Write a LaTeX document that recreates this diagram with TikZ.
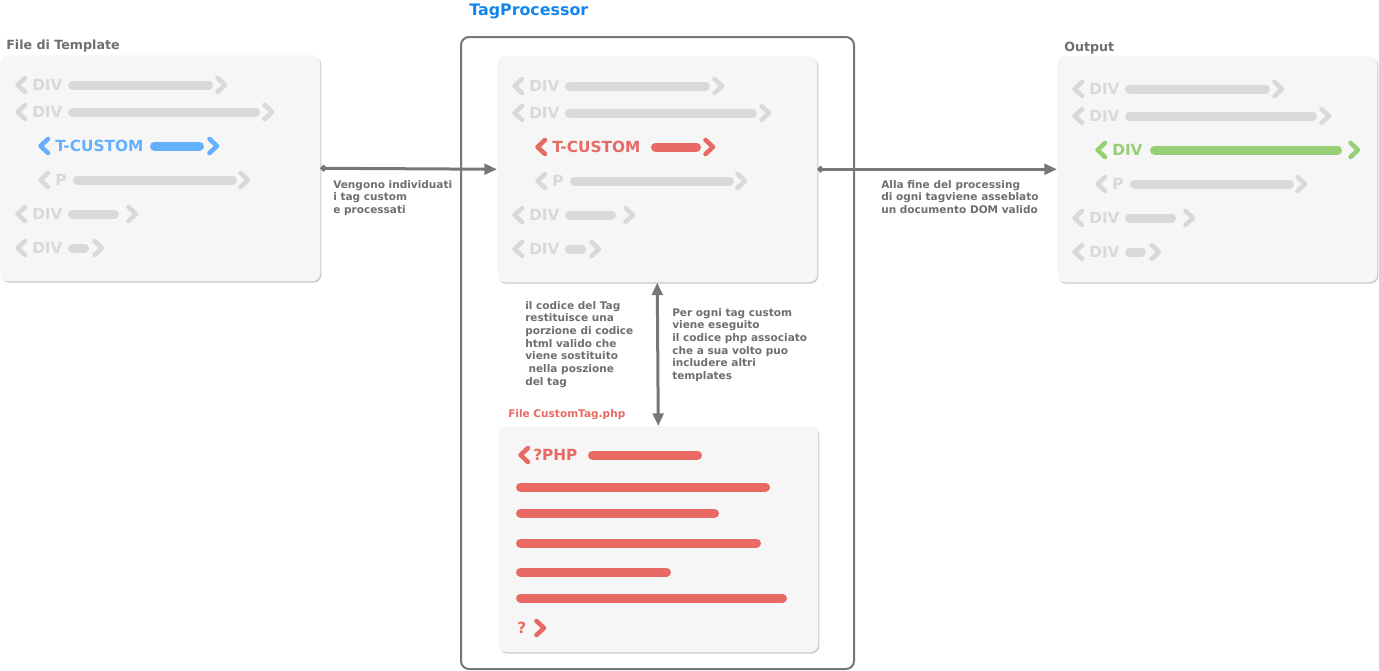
\documentclass[tikz,border=0pt]{standalone}
\usepackage{fontspec}
\setmainfont{DejaVu Sans}
\usetikzlibrary{arrows.meta}

\definecolor{boxfill}{HTML}{F6F6F6}
\definecolor{boxshade}{HTML}{C9C9C9}
\definecolor{tagoff}{HTML}{D9D9D9}
\definecolor{tagblue}{HTML}{64B0FF}
\definecolor{tagred}{HTML}{E96A64}
\definecolor{taggreen}{HTML}{96CF74}
\definecolor{labelgray}{HTML}{6E6E6E}
\definecolor{linegray}{HTML}{777777}
\definecolor{titleblue}{HTML}{1584EE}

% one line of markup: colour, x, y, label, bar from, bar to, closing x
\newcommand{\tagrow}[7]{%
  \draw[chev, #1] (#2+10,#3-7) -- (#2+2.5,#3) -- (#2+10,#3+7);
  \node[tagtext, text=#1] (r#3) at (#2+17,#3) {#4};
  \draw[codebar, #1] (#5+4.5,#3) -- (#6-4.5,#3);
  \draw[chev, #1] (#7+2.5,#3-7) -- (#7+10,#3) -- (#7+2.5,#3+7);
}
% grey lines around the highlighted one
\newcommand{\greyrows}{%
  \tagrow{tagoff}{15}{30}{DIV}{68}{213}{215}
  \tagrow{tagoff}{15}{57}{DIV}{68}{260}{262}
  \tagrow{tagoff}{38}{125}{P}{73}{237}{238}
  \tagrow{tagoff}{15}{159}{DIV}{68}{119}{126}
  \tagrow{tagoff}{15}{193}{DIV}{68}{89}{92}
}

\begin{document}
\begin{tikzpicture}[x=0.75pt, y=-0.75pt,
    codebox/.style={anchor=north west, fill=boxfill, rounded corners=6pt,
      minimum width=240pt, minimum height=169.5pt, inner sep=0,
      preaction={fill=boxshade, transform canvas={xshift=0.8pt, yshift=-1pt}}},
    chev/.style={line width=3.4pt, line cap=round, line join=round},
    codebar/.style={line width=6.75pt, line cap=round},
    tagtext/.style={anchor=west, inner sep=0, font=\fontsize{11.5}{13}\selectfont\bfseries},
    boxtitle/.style={anchor=north west, inner sep=0, text=labelgray, font=\fontsize{9.5}{11}\selectfont\bfseries},
    note/.style={anchor=north west, inner sep=0, align=left, text=labelgray, font=\fontsize{7.9}{9.5}\selectfont\bfseries},
    flow/.style={linegray, line width=2.25pt, {Circle[length=4.5pt]}-{Triangle[length=9.5pt,width=8pt]}},
    callflow/.style={linegray, line width=2.25pt, {Triangle[length=9.5pt,width=8pt]}-{Triangle[length=9.5pt,width=8pt]}}]
  \useasboundingbox (0,0) rectangle (1379,671);

  % tag processor frame
  \node[anchor=north west, draw=linegray, line width=1.5pt, rounded corners=6pt,
    minimum width=294.75pt, minimum height=474pt, inner sep=0] (tagproc) at (460,36) {};
  \node[anchor=north west, inner sep=0, text=titleblue, font=\fontsize{11.9}{13}\selectfont\bfseries]
    (tagproc-title) at (469,4) {TagProcessor};

  % template file
  \node[boxtitle] (tpl-title) at (6,40) {File di Template};
  \node[codebox] (tpl) at (0,55) {};
  \begin{scope}[shift={(tpl.north west)}, name prefix=tpl-]
    \greyrows
    \tagrow{tagblue}{38}{91}{T-CUSTOM}{150}{204}{207}
  \end{scope}

  % processed copy
  \node[codebox] (proc) at (497,56) {};
  \begin{scope}[shift={(proc.north west)}, name prefix=proc-]
    \greyrows
    \tagrow{tagred}{38}{91}{T-CUSTOM}{154}{204}{206}
  \end{scope}

  % output
  \node[boxtitle] (out-title) at (1064,42) {Output};
  \node[codebox] (out) at (1057,56) {};
  \begin{scope}[shift={(out.north west)}, yshift=-2.25pt, name prefix=out-]
    \greyrows
    \tagrow{taggreen}{38}{91}{DIV}{93}{285}{291}
  \end{scope}

  % php file
  \node[anchor=north west, inner sep=0, text=tagred, font=\fontsize{7.9}{9.5}\selectfont\bfseries]
    (php-title) at (508,409) {File CustomTag.php};
  \node[codebox] (php) at (498,426) {};
  \begin{scope}[shift={(php.north west)}, name prefix=php-]
    \draw[chev, tagred] (30,22) -- (22.5,29) -- (30,36);
    \node[tagtext, text=tagred] (open) at (35,29) {?PHP};
    \draw[codebar, tagred] (94.5,29) -- (199.5,29);
    \foreach \y/\e in {61/272, 87/221, 117/263, 146/173, 172/289}
      \draw[codebar, tagred] (22.5,\y) -- (\e-4.5,\y);
    \node[tagtext, text=tagred] (close) at (19,202) {?};
    \draw[chev, tagred] (38.5,195) -- (46,202) -- (38.5,209);
  \end{scope}

  % connectors
  \draw[flow] (tpl.east) -- (proc.west);
  \draw[flow] (proc.east) -- (out.west);
  \draw[callflow] (proc.south) -- (php.north);

  \node[note] (find) at (333,180) {Vengono individuati\\i tag custom\\e processati};
  \node[note] (dom) at (881,180) {Alla fine del processing\\di ogni tagviene asseblato\\un documento DOM valido};
  \node[note] (back) at (525,301) {il codice del Tag\\restituisce una\\porzione di codice\\html valido che\\viene sostituito\\\hspace*{2.5pt}nella poszione\\del tag};
  \node[note] (run) at (672,308) {Per ogni tag custom\\viene eseguito\\il codice php associato\\che a sua volto puo\\includere altri\\templates};
\end{tikzpicture}
\end{document}
